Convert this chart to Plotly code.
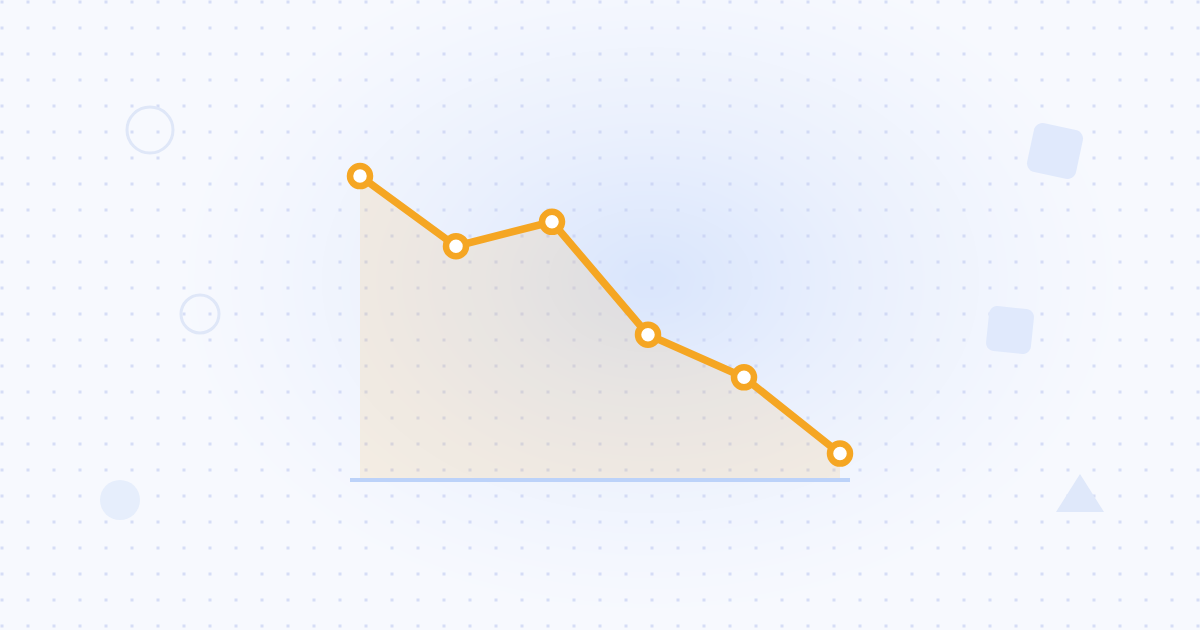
import numpy as np
import plotly.graph_objects as go

# chart data
steps = [0, 1, 2, 3, 4, 5]
values = [99, 76, 84, 47, 33, 8]

W, H = 1200, 630
LINE_ORANGE = "#f5a623"


def rounded_rect_path(cx, cy, size, radius, angle_deg):
    # rounded square rotated around its centre, in pixel coords
    h = size / 2 - radius
    pts = []
    for (sx, sy, a0) in [(h, -h, -90), (h, h, 0), (-h, h, 90), (-h, -h, 180)]:
        for a in np.linspace(a0, a0 + 90, 8):
            t = np.radians(a)
            pts.append((sx + radius * np.cos(t), sy + radius * np.sin(t)))
    th = np.radians(angle_deg)
    out = []
    for x, y in pts:
        rx = x * np.cos(th) - y * np.sin(th) + cx
        ry = x * np.sin(th) + y * np.cos(th) + cy
        out.append((rx, ry))
    return "M " + " L ".join("{:.1f},{:.1f}".format(x, y) for x, y in out) + " Z"


fig = go.Figure()

# background glow
gx = np.linspace(0, W, 61)
gy = np.linspace(0, H, 33)
X, Y = np.meshgrid(gx, gy)
d = np.sqrt(((X - 650) / 480) ** 2 + ((Y - 280) / 340) ** 2)
glow = np.clip(1 - d, 0, 1) ** 1.2
fig.add_trace(go.Heatmap(
    x=gx, y=gy, z=glow, zsmooth="best", showscale=False, hoverinfo="skip",
    zmin=0, zmax=1,
    colorscale=[[0, "#f7f9fe"], [0.5, "#eaf0fd"], [1, "#d9e5fc"]],
    xaxis="x", yaxis="y"))

# dotted grid
dx = np.arange(2, W, 26)
dy = np.arange(2, H, 26)
DX, DY = np.meshgrid(dx, dy)
fig.add_trace(go.Scatter(
    x=DX.ravel(), y=DY.ravel(), mode="markers", hoverinfo="skip",
    marker=dict(symbol="square", size=3, color="rgba(192,202,240,0.6)"),
    xaxis="x", yaxis="y", showlegend=False))

# baseline
fig.add_trace(go.Scatter(
    x=[350, 850], y=[480, 480], mode="lines", hoverinfo="skip",
    line=dict(color="#bcd2f9", width=4), xaxis="x", yaxis="y",
    showlegend=False))

# main series
fig.add_trace(go.Scatter(
    x=steps, y=values, mode="lines+markers", fill="tozeroy",
    fillcolor="rgba(245,166,35,0.12)",
    line=dict(color=LINE_ORANGE, width=7.5),
    marker=dict(size=20, color="white", line=dict(color=LINE_ORANGE, width=6.5)),
    xaxis="x2", yaxis="y2", showlegend=False, cliponaxis=False))

shapes = [
    dict(type="circle", x0=127, y0=107, x1=173, y1=153,
         line=dict(color="#dfe7f8", width=3)),
    dict(type="circle", x0=181, y0=295, x1=219, y1=333,
         line=dict(color="#dfe7f8", width=3)),
    dict(type="circle", x0=100, y0=480, x1=140, y1=520,
         fillcolor="#e6eefc", line=dict(width=0)),
    dict(type="path", path=rounded_rect_path(1055, 151, 50, 9, 12),
         fillcolor="#e0e9fc", line=dict(width=0)),
    dict(type="path", path=rounded_rect_path(1010, 330, 45, 8, 6),
         fillcolor="#e0e9fc", line=dict(width=0)),
    dict(type="path", path="M 1080,474 L 1104,512 L 1056,512 Z",
         fillcolor="#dfe8fa", line=dict(width=0)),
]
for s in shapes:
    s.update(xref="x", yref="y", layer="above")

fig.update_layout(
    width=W, height=H,
    margin=dict(l=0, r=0, t=0, b=0),
    paper_bgcolor="#f7f9fe", plot_bgcolor="rgba(0,0,0,0)",
    showlegend=False,
    shapes=shapes,
    xaxis=dict(domain=[0, 1], range=[0, W], visible=False, fixedrange=True),
    yaxis=dict(domain=[0, 1], range=[H, 0], visible=False, fixedrange=True),
    xaxis2=dict(domain=[348 / W, 852 / W], range=[-0.125, 5.125],
                visible=False, anchor="y2"),
    yaxis2=dict(domain=[1 - 478 / H, 1 - 160 / H], range=[0, 104.26],
                visible=False, anchor="x2"),
)

fig.write_html("out.html", config={"displayModeBar": False},
               post_script="document.body.style.margin='0';"
                           "document.body.style.overflow='hidden';")
